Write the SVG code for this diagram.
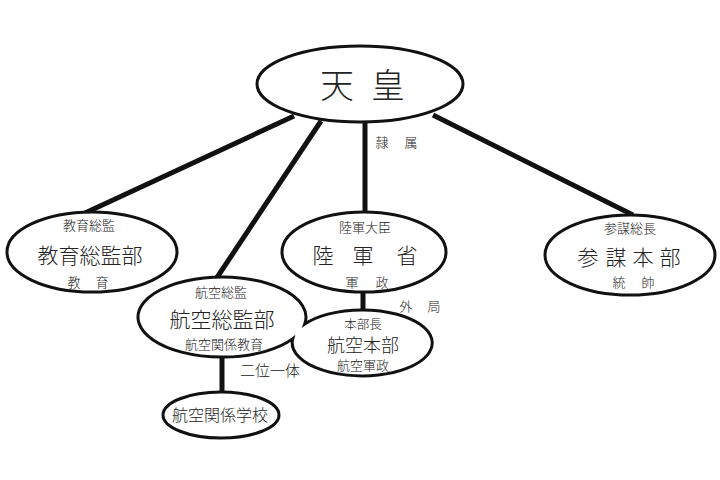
<svg xmlns="http://www.w3.org/2000/svg" width="720" height="480" viewBox="0 0 720 480">
<style>
.n{fill:#fff;stroke:#111;stroke-width:3}
.c{stroke:#111;stroke-width:5;fill:none;stroke-linecap:butt}
text{font-family:"Noto Sans CJK JP","Noto Sans CJK SC",sans-serif;font-weight:300;fill:#222;text-anchor:middle}
.s{font-size:13px}
.m{font-size:21px}
</style>
<rect width="720" height="480" fill="#fff"/>
<g id="connectors">
<line class="c" x1="294" y1="116" x2="85" y2="213"/>
<line class="c" x1="321" y1="121" x2="216" y2="279"/>
<line class="c" x1="365" y1="121" x2="365" y2="213"/>
<line class="c" x1="433" y1="115" x2="633" y2="215"/>
<line class="c" x1="363" y1="291" x2="363" y2="311"/>
<line class="c" x1="222" y1="357" x2="222" y2="393"/>
</g>
<g id="tenno">
<ellipse class="n" cx="360" cy="84" rx="103" ry="38"/>
<text x="337" y="98" style="font-size:34px">天</text>
<text x="388" y="98" style="font-size:34px">皇</text>
</g>
<g id="label-reizoku">
<text class="s" x="382" y="147">隷</text>
<text class="s" x="411" y="147">属</text>
</g>
<g id="kyoiku">
<ellipse class="n" cx="92" cy="252" rx="85" ry="40"/>
<text class="s" x="89" y="230">教育総監</text>
<text class="m" x="90" y="263">教育総監部</text>
<text class="s" x="74" y="287">教</text>
<text class="s" x="102" y="287">育</text>
</g>
<g id="rikugun">
<ellipse class="n" cx="364" cy="252" rx="82" ry="40"/>
<text class="s" x="365" y="232">陸軍大臣</text>
<text class="m" x="323" y="263">陸</text>
<text class="m" x="363" y="263">軍</text>
<text class="m" x="407" y="263">省</text>
<text class="s" x="352" y="287">軍</text>
<text class="s" x="382" y="287">政</text>
</g>
<g id="sanbo">
<ellipse class="n" cx="630" cy="255" rx="85" ry="40"/>
<text class="s" x="630" y="233">参謀総長</text>
<text class="m" x="588" y="265">参</text>
<text class="m" x="616" y="265">謀</text>
<text class="m" x="643" y="265">本</text>
<text class="m" x="670" y="265">部</text>
<text class="s" x="619" y="287">統</text>
<text class="s" x="648" y="287">帥</text>
</g>
<g id="koku-pair">
<path class="n" d="M304.7,324.1 A84,40 0 1 0 292.8,338.6 A70,33 0 1 0 304.7,324.1 Z"/>
</g>
<g id="koku-sokan">
<text class="s" x="221" y="297">航空総監</text>
<text class="m" x="222" y="327">航空総監部</text>
<text class="s" x="224" y="349">航空関係教育</text>
</g>
<g id="koku-honbu">
<text x="363" y="329" style="font-size:12.5px">本部長</text>
<text x="363" y="352" style="font-size:18px">航空本部</text>
<text class="s" x="363" y="370">航空軍政</text>
</g>
<g id="label-gaikyoku">
<text class="s" x="406" y="311">外</text>
<text class="s" x="434" y="311">局</text>
</g>
<g id="label-niitai">
<text x="270" y="376" style="font-size:15px">二位一体</text>
</g>
<g id="koku-gakko">
<ellipse class="n" cx="221" cy="415" rx="58" ry="23"/>
<text x="220" y="421" style="font-size:16px">航空関係学校</text>
</g>
</svg>
